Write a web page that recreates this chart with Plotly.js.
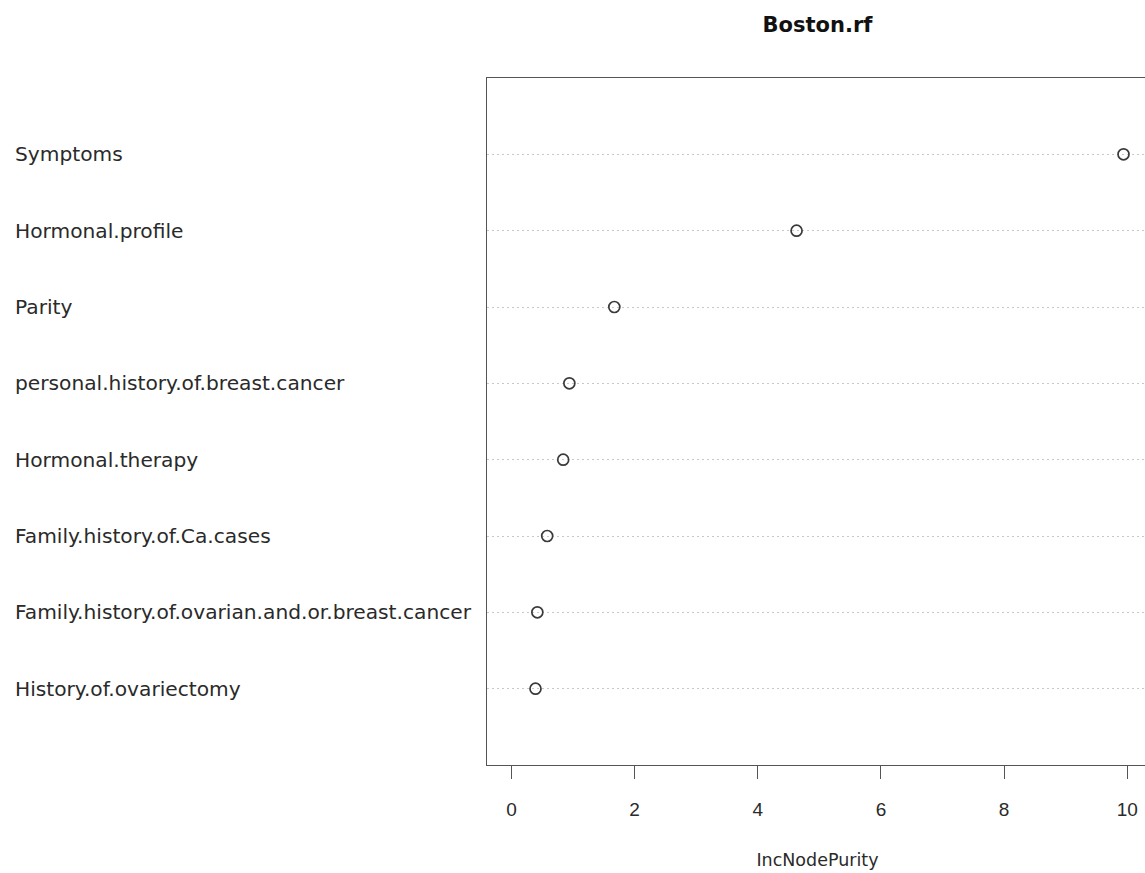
<!DOCTYPE html>
<html>
<head>
<meta charset="utf-8">
<script src="https://cdn.plot.ly/plotly-3.0.1.min.js"></script>
<style>
  html, body { margin: 0; padding: 0; overflow: hidden; background: #fff; }
  #chart { width: 1160px; height: 873px; }
</style>
</head>
<body>
<div id="chart"></div>
<script>
// Variables, in display order from bottom (y = 1) to top (y = 8)
const variables = [
  "History.of.ovariectomy",
  "Family.history.of.ovarian.and.or.breast.cancer",
  "Family.history.of.Ca.cases",
  "Hormonal.therapy",
  "personal.history.of.breast.cancer",
  "Parity",
  "Hormonal.profile",
  "Symptoms"
];
const incNodePurity = [0.39, 0.42, 0.58, 0.84, 0.94, 1.67, 4.63, 9.94];
const xTicks = [0, 2, 4, 6, 8, 10];
const chartTitle = "Boston.rf";
const xTitle = "IncNodePurity";

const positions = variables.map((_, i) => i + 1);

// R dotchart style: xlim = c(0, max) extended by 4%
const xmax = Math.max(...incNodePurity);
const ext = 0.04 * xmax;
const xRange = [0 - ext, xmax + ext];

const W = 1160, H = 873;
const ml = 487, mr = 12, mt = 78, mb = 108;
const plotW = W - ml - mr;

const labelAnnotations = variables.map((v, i) => ({
  text: v,
  xref: 'paper', yref: 'y',
  x: (13 - ml) / plotW, y: positions[i],
  xanchor: 'left', yanchor: 'middle',
  showarrow: false,
  font: { family: 'DejaVu Sans', size: 20.2, color: '#2a2a2a' }
}));

const trace = {
  type: 'scatter',
  mode: 'markers',
  x: incNodePurity,
  y: positions,
  marker: {
    symbol: 'circle-open',
    size: 11,
    color: '#3a3a3a',
    line: { width: 1.7, color: '#3a3a3a' }
  },
  hoverinfo: 'x+text',
  text: variables,
  showlegend: false,
  cliponaxis: false
};

const layout = {
  width: W, height: H,
  margin: { l: ml, r: mr, t: mt, b: mb, pad: 0 },
  paper_bgcolor: '#fff',
  plot_bgcolor: '#fff',
  title: {
    text: '<b>' + chartTitle + '</b>',
    font: { family: 'DejaVu Sans', size: 21, color: '#111' },
    xref: 'paper', x: 0.5, xanchor: 'center',
    yref: 'container', y: 1 - 25 / H, yanchor: 'middle'
  },
  xaxis: {
    range: xRange,
    tickmode: 'array',
    tickvals: xTicks,
    ticktext: xTicks.map(String),
    ticks: 'outside',
    ticklen: 13,
    tickwidth: 1,
    tickcolor: '#555',
    ticklabelstandoff: 14,
    tickfont: { family: 'Liberation Sans', size: 19, color: '#2a2a2a' },
    showgrid: false,
    zeroline: false,
    showline: true,
    linecolor: '#555',
    linewidth: 1.2,
    mirror: true,
    automargin: false,
    title: {
      text: xTitle,
      font: { family: 'DejaVu Sans', size: 17.5, color: '#2a2a2a' },
      standoff: 34
    }
  },
  yaxis: {
    range: [0, 9],
    tickmode: 'array',
    tickvals: positions,
    showticklabels: false,
    ticks: '',
    showgrid: true,
    gridcolor: '#c8c8c8',
    gridwidth: 1,
    griddash: '2px,3px',
    zeroline: false,
    showline: true,
    linecolor: '#555',
    linewidth: 1.2,
    mirror: true,
    automargin: false
  },
  annotations: labelAnnotations
};

Plotly.newPlot('chart', [trace], layout, { displayModeBar: false, staticPlot: false });
</script>
</body>
</html>
